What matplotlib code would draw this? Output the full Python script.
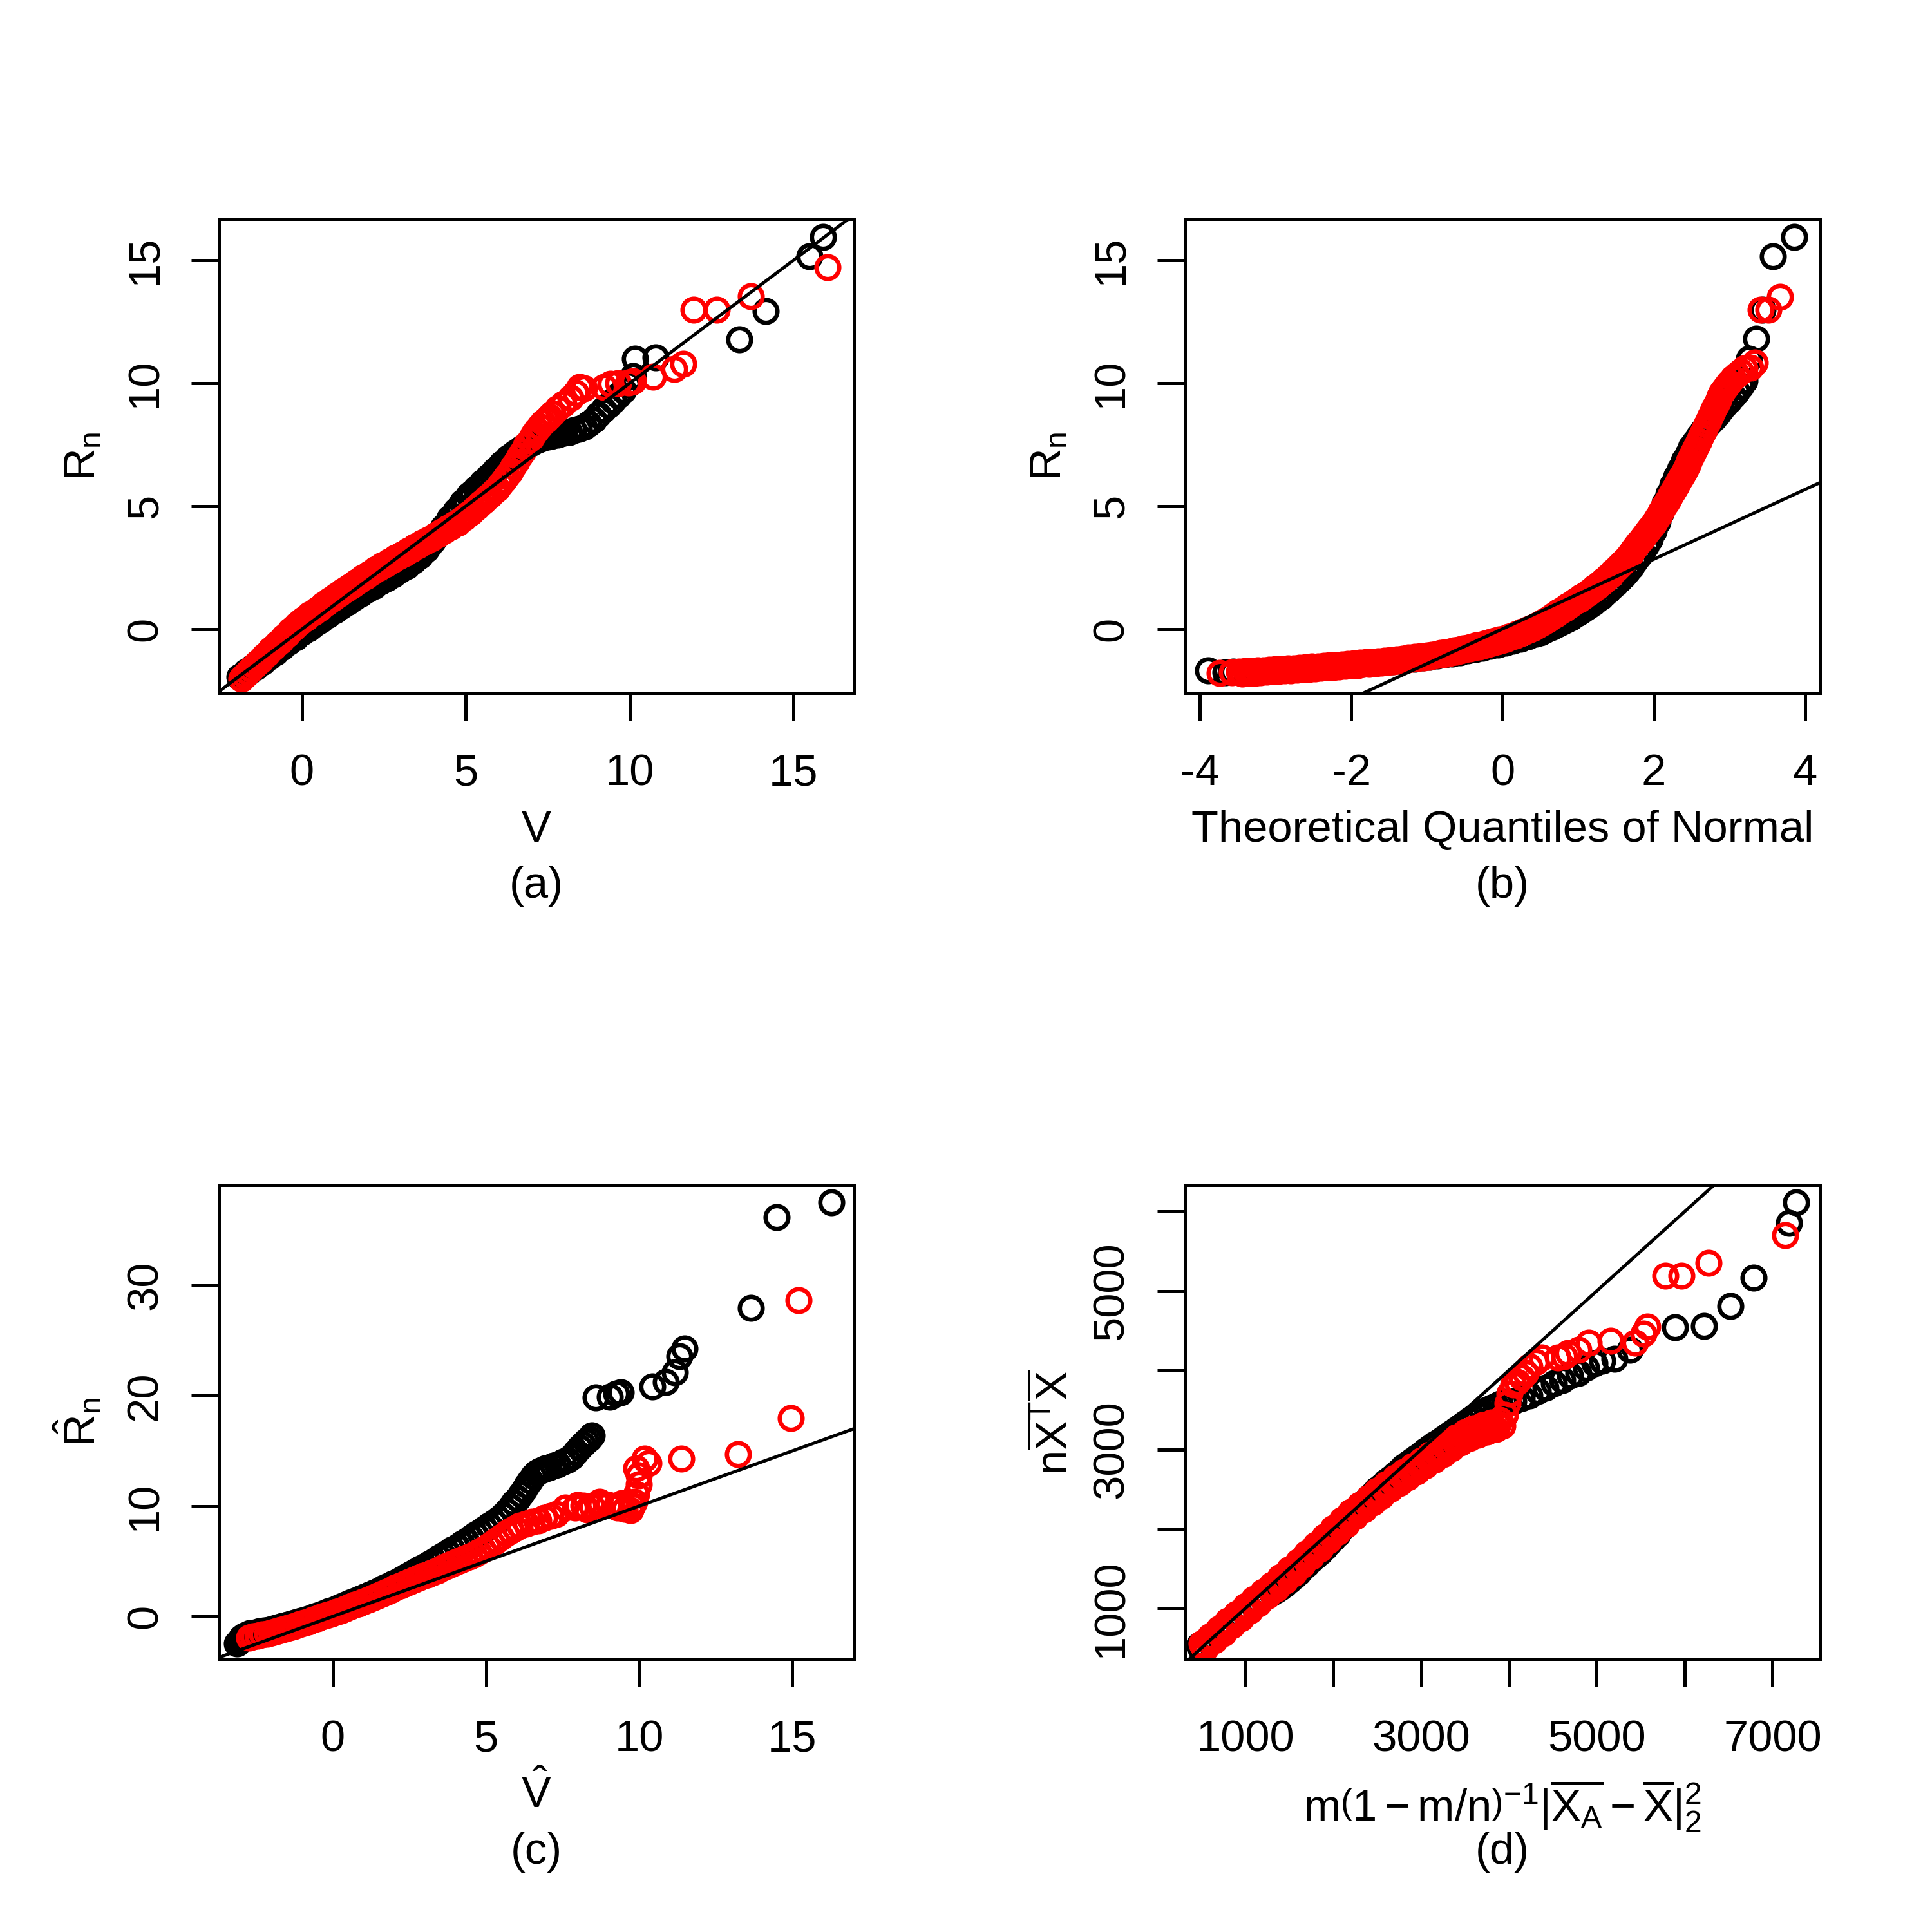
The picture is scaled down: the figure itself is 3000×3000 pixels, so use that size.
import matplotlib.pyplot as plt

plt.rcParams['font.family'] = ['Liberation Sans', 'DejaVu Sans']
plt.rcParams['mathtext.fontset'] = 'custom'
plt.rcParams['mathtext.rm'] = 'Liberation Sans'
plt.rcParams['mathtext.it'] = 'Liberation Sans'
plt.rcParams['mathtext.bf'] = 'Liberation Sans:bold'
plt.rcParams['axes.unicode_minus'] = False

# ---------------- data ----------------
# (a) R_n against V
a_black = [(-1.90,-1.93),(-1.80,-1.93),(-1.70,-1.73),(-1.60,-1.73),(-1.50,-1.53),(-1.40,-1.53),
           (-1.30,-1.33),(-1.20,-1.33),(-1.10,-1.13),(-1.00,-1.13),(-0.90,-0.93),(-0.80,-0.93),
           (-0.70,-0.73),(-0.60,-0.73),(-0.50,-0.53),(-0.40,-0.53),(-0.30,-0.33),(-0.20,-0.33),
           (-0.10,-0.13),(0.00,-0.13),(0.10,0.06),(0.20,0.04),(0.30,0.14),(0.40,0.25),(0.50,0.33),
           (0.60,0.40),(0.70,0.52),(0.80,0.58),(0.90,0.70),(1.00,0.76),(1.10,0.88),(1.20,0.94),
           (1.30,1.05),(1.40,1.11),(1.50,1.22),(1.60,1.28),(1.70,1.39),(1.80,1.45),(1.90,1.56),
           (2.00,1.62),(2.10,1.72),(2.20,1.77),(2.30,1.88),(2.40,1.93),(2.50,2.03),(2.60,2.08),
           (2.70,2.19),(2.80,2.24),(2.90,2.35),(3.00,2.40),(3.10,2.52),(3.20,2.58),(3.30,2.70),
           (3.40,2.77),(3.50,2.90),(3.60,2.98),(3.70,3.14),(3.80,3.25),(3.90,3.44),(4.00,3.58),
           (4.10,3.78),(4.20,3.93),(4.30,4.14),(4.40,4.28),(4.50,4.50),(4.60,4.62),(4.70,4.83),
           (4.80,4.95),(4.90,5.15),(5.00,5.26),(5.10,5.45),(5.20,5.56),(5.30,5.72),(5.40,5.82),
           (5.50,5.96),(5.60,6.06),(5.70,6.20),(5.80,6.30),(5.90,6.46),(6.00,6.56),(6.10,6.72),
           (6.20,6.82),(6.30,6.96),(6.40,7.06),(6.50,7.18),(6.60,7.26),(6.70,7.36),(6.80,7.44),
           (6.90,7.52),(7.00,7.58),(7.10,7.65),(7.20,7.70),(7.30,7.76),(7.40,7.80),(7.50,7.84),
           (7.60,7.86),(7.70,7.90),(7.80,7.92),(7.90,7.96),(8.00,7.98),(8.15,8.02),(8.30,8.08),
           (8.45,8.15),(8.60,8.22),(8.75,8.35),(8.90,8.52),(9.05,8.72),(9.20,8.92),(9.35,9.10),
           (9.50,9.30),(9.65,9.50),(9.80,9.72),(9.95,9.95),(10.10,10.30),(10.17,11.00),
           (10.79,11.04),(13.34,11.79),(14.15,12.92),(15.49,15.17),(15.90,15.93)]
a_red = [(-1.85,-2.02),(-1.75,-1.88),(-1.65,-1.76),(-1.55,-1.62),(-1.45,-1.50),(-1.35,-1.36),
         (-1.25,-1.24),(-1.15,-1.10),(-1.05,-0.98),(-0.95,-0.84),(-0.85,-0.72),(-0.75,-0.58),
         (-0.65,-0.46),(-0.55,-0.32),(-0.45,-0.20),(-0.35,-0.06),(-0.25,0.06),(-0.15,0.18),
         (-0.05,0.28),(0.05,0.40),(0.15,0.48),(0.25,0.60),(0.35,0.68),(0.45,0.80),(0.55,0.88),
         (0.65,0.99),(0.75,1.07),(0.85,1.18),(0.95,1.26),(1.05,1.37),(1.15,1.45),(1.25,1.55),
         (1.35,1.63),(1.45,1.74),(1.55,1.81),(1.65,1.92),(1.75,1.99),(1.85,2.09),(1.95,2.16),
         (2.05,2.26),(2.15,2.33),(2.25,2.43),(2.35,2.49),(2.45,2.59),(2.55,2.65),(2.65,2.75),
         (2.75,2.80),(2.85,2.90),(2.95,2.95),(3.05,3.05),(3.15,3.10),(3.25,3.20),(3.35,3.25),
         (3.45,3.35),(3.55,3.40),(3.65,3.50),(3.75,3.55),(3.85,3.65),(3.95,3.70),(4.05,3.80),
         (4.15,3.85),(4.25,3.95),(4.35,4.00),(4.45,4.10),(4.55,4.16),(4.65,4.26),(4.75,4.32),
         (4.85,4.44),(4.95,4.52),(5.05,4.65),(5.15,4.74),(5.25,4.88),(5.35,4.97),(5.45,5.11),
         (5.55,5.20),(5.65,5.34),(5.75,5.44),(5.85,5.60),(5.95,5.72),(6.05,5.90),(6.15,6.04),
         (6.25,6.24),(6.35,6.40),(6.45,6.62),(6.55,6.80),(6.65,7.04),(6.75,7.24),(6.85,7.48),
         (6.95,7.68),(7.05,7.90),(7.15,8.08),(7.25,8.26),(7.35,8.40),(7.45,8.52),(7.55,8.64),
         (7.65,8.78),(7.80,8.98),(7.98,9.17),(8.20,9.40),(8.36,9.60),(8.48,9.84),(8.60,9.78),
         (9.22,9.84),(9.41,9.97),(9.65,10.00),(9.96,10.03),(10.11,10.09),(10.71,10.27),
         (11.35,10.58),(11.63,10.79),(11.94,12.98),(12.66,12.98),(13.70,13.53),(16.03,14.70)]

# (b) R_n against normal quantiles
b_black = [(-3.89,-1.66),(-3.66,-1.74),(-3.56,-1.72),(-3.46,-1.76),(-3.36,-1.74),(-3.26,-1.72),
           (-3.16,-1.70),(-3.06,-1.68),(-2.96,-1.66),(-2.86,-1.64),(-2.76,-1.62),(-2.66,-1.60),
           (-2.56,-1.58),(-2.46,-1.56),(-2.36,-1.53),(-2.26,-1.51),(-2.16,-1.49),(-2.06,-1.47),
           (-1.96,-1.44),(-1.86,-1.42),(-1.76,-1.39),(-1.66,-1.36),(-1.56,-1.33),(-1.46,-1.30),
           (-1.36,-1.27),(-1.26,-1.23),(-1.16,-1.19),(-1.06,-1.16),(-0.96,-1.12),(-0.86,-1.07),
           (-0.76,-1.03),(-0.66,-0.98),(-0.56,-0.93),(-0.46,-0.87),(-0.36,-0.81),(-0.26,-0.75),
           (-0.16,-0.68),(-0.06,-0.62),(0.04,-0.55),(0.14,-0.47),(0.24,-0.38),(0.34,-0.29),
           (0.44,-0.19),(0.50,-0.12),(0.55,-0.05),(0.60,0.02),(0.65,0.09),(0.70,0.16),(0.75,0.24),
           (0.80,0.32),(0.85,0.40),(0.90,0.48),(0.95,0.57),(1.00,0.66),(1.05,0.76),(1.10,0.86),
           (1.15,0.97),(1.20,1.08),(1.25,1.20),(1.30,1.32),(1.35,1.45),(1.40,1.58),(1.45,1.72),
           (1.50,1.86),(1.55,2.01),(1.60,2.18),(1.65,2.36),(1.70,2.55),(1.75,2.75),(1.80,2.95),
           (1.85,3.15),(1.90,3.40),(1.95,3.68),(2.00,4.00),(2.05,4.37),(2.10,4.75),(2.15,5.13),
           (2.20,5.50),(2.25,5.86),(2.30,6.20),(2.35,6.53),(2.40,6.85),(2.45,7.13),(2.50,7.40),
           (2.55,7.63),(2.60,7.85),(2.65,8.06),(2.70,8.25),(2.75,8.43),(2.80,8.60),(2.85,8.78),
           (2.90,8.95),(2.95,9.13),(3.00,9.30),(3.05,9.48),(3.10,9.65),(3.15,9.87),(3.20,10.10),
           (3.26,11.00),(3.36,11.81),(3.44,12.98),(3.58,15.17),(3.86,15.93)]
b_red = [(-3.74,-1.78),(-3.58,-1.74),(-3.48,-1.72),(-3.44,-1.80),(-3.40,-1.71),(-3.36,-1.78),
         (-3.32,-1.69),(-3.28,-1.77),(-3.24,-1.68),(-3.20,-1.75),(-3.16,-1.66),(-3.12,-1.73),
         (-3.08,-1.64),(-3.04,-1.71),(-3.00,-1.62),(-2.96,-1.69),(-2.92,-1.61),(-2.88,-1.68),
         (-2.84,-1.59),(-2.80,-1.66),(-2.76,-1.58),(-2.72,-1.64),(-2.68,-1.56),(-2.64,-1.63),
         (-2.60,-1.54),(-2.56,-1.61),(-2.52,-1.52),(-2.48,-1.59),(-2.44,-1.51),(-2.40,-1.57),
         (-2.36,-1.49),(-2.32,-1.55),(-2.28,-1.47),(-2.24,-1.53),(-2.20,-1.45),(-2.16,-1.51),
         (-2.12,-1.43),(-2.08,-1.49),(-2.04,-1.41),(-2.00,-1.47),(-1.96,-1.39),(-1.92,-1.45),
         (-1.88,-1.37),(-1.84,-1.42),(-1.80,-1.34),(-1.76,-1.40),(-1.72,-1.32),(-1.68,-1.38),
         (-1.64,-1.30),(-1.60,-1.35),(-1.56,-1.27),(-1.52,-1.32),(-1.48,-1.24),(-1.44,-1.30),
         (-1.40,-1.22),(-1.36,-1.27),(-1.32,-1.19),(-1.28,-1.24),(-1.24,-1.16),(-1.20,-1.21),
         (-1.16,-1.13),(-1.12,-1.18),(-1.08,-1.10),(-1.04,-1.15),(-1.00,-1.07),(-0.97,-1.11),
         (-0.94,-1.04),(-0.91,-1.08),(-0.88,-1.01),(-0.85,-1.05),(-0.82,-0.97),(-0.79,-1.01),
         (-0.76,-0.94),(-0.73,-0.98),(-0.70,-0.90),(-0.67,-0.94),(-0.64,-0.87),(-0.61,-0.90),
         (-0.58,-0.83),(-0.55,-0.86),(-0.52,-0.79),(-0.49,-0.82),(-0.46,-0.75),(-0.43,-0.78),
         (-0.40,-0.71),(-0.37,-0.73),(-0.34,-0.66),(-0.31,-0.69),(-0.28,-0.62),(-0.25,-0.64),
         (-0.22,-0.57),(-0.19,-0.59),(-0.16,-0.52),(-0.13,-0.54),(-0.10,-0.47),(-0.07,-0.49),
         (-0.04,-0.42),(-0.01,-0.44),(0.02,-0.38),(0.05,-0.38),(0.08,-0.31),(0.11,-0.31),
         (0.14,-0.25),(0.17,-0.25),(0.20,-0.18),(0.23,-0.18),(0.26,-0.11),(0.29,-0.10),
         (0.32,-0.03),(0.35,-0.02),(0.38,0.05),(0.41,0.06),(0.44,0.13),(0.47,0.16),(0.50,0.24),
         (0.53,0.26),(0.56,0.34),(0.59,0.37),(0.62,0.46),(0.65,0.49),(0.68,0.58),(0.71,0.61),
         (0.74,0.70),(0.77,0.73),(0.80,0.82),(0.83,0.85),(0.86,0.94),(0.89,0.97),(0.92,1.06),
         (0.95,1.09),(0.98,1.18),(1.01,1.21),(1.04,1.30),(1.07,1.34),(1.10,1.43),(1.13,1.47),
         (1.16,1.56),(1.19,1.60),(1.22,1.70),(1.25,1.74),(1.28,1.84),(1.31,1.89),(1.34,1.99),
         (1.37,2.04),(1.40,2.15),(1.43,2.20),(1.46,2.32),(1.50,2.45),(1.525,2.52),(1.55,2.60),
         (1.575,2.67),(1.60,2.75),(1.625,2.84),(1.65,2.92),(1.675,3.01),(1.70,3.10),(1.725,3.20),
         (1.75,3.30),(1.775,3.40),(1.80,3.50),(1.825,3.60),(1.85,3.70),(1.875,3.80),(1.90,3.90),
         (1.925,4.00),(1.95,4.10),(1.975,4.20),(2.00,4.30),(2.025,4.42),(2.05,4.55),(2.075,4.67),
         (2.10,4.80),(2.125,4.92),(2.15,5.05),(2.175,5.17),(2.20,5.30),(2.225,5.44),(2.25,5.57),
         (2.275,5.71),(2.30,5.85),(2.325,5.99),(2.35,6.12),(2.375,6.26),(2.40,6.40),(2.425,6.55),
         (2.45,6.71),(2.475,6.86),(2.50,7.02),(2.525,7.18),(2.55,7.33),(2.575,7.49),(2.60,7.65),
         (2.625,7.82),(2.65,7.98),(2.675,8.15),(2.70,8.32),(2.725,8.49),(2.75,8.66),(2.775,8.83),
         (2.80,9.00),(2.825,9.15),(2.85,9.30),(2.875,9.45),(2.90,9.60),(2.925,9.71),(2.95,9.82),
         (2.975,9.93),(3.00,10.04),(3.05,10.20),(3.10,10.35),(3.15,10.48),(3.20,10.60),
         (3.28,10.64),(3.34,10.83),(3.42,12.98),(3.52,12.98),(3.67,13.50)]

# (c) R_n hat against V hat
c_black = [(-3.12,-2.46),(-3.05,-2.20),(-2.98,-1.95),(-2.90,-1.78),(-2.80,-1.64),(-2.70,-1.54),
           (-2.55,-1.45),(-2.40,-1.37),(-2.25,-1.29),(-2.10,-1.20),(-1.95,-1.10),(-1.80,-1.00),
           (-1.65,-0.90),(-1.50,-0.78),(-1.35,-0.66),(-1.20,-0.54),(-1.05,-0.42),(-0.90,-0.29),
           (-0.75,-0.15),(-0.60,-0.01),(-0.45,0.13),(-0.30,0.28),(-0.15,0.44),(0.00,0.60),
           (0.15,0.76),(0.30,0.93),(0.45,1.10),(0.60,1.27),(0.75,1.44),(0.90,1.61),(1.05,1.79),
           (1.20,1.97),(1.35,2.16),(1.50,2.35),(1.65,2.55),(1.80,2.75),(1.95,2.96),(2.10,3.17),
           (2.25,3.39),(2.40,3.61),(2.55,3.84),(2.70,4.07),(2.85,4.31),(3.00,4.55),(3.15,4.79),
           (3.30,5.04),(3.45,5.29),(3.60,5.54),(3.75,5.80),(3.90,6.06),(4.05,6.32),(4.20,6.58),
           (4.35,6.85),(4.50,7.12),(4.65,7.39),(4.80,7.66),(4.95,7.94),(5.10,8.22),(5.25,8.50),
           (5.40,8.80),(5.55,9.15),(5.68,9.50),(5.80,9.90),(5.92,10.30),(6.04,10.70),(6.14,11.10),
           (6.24,11.50),(6.34,11.90),(6.44,12.30),(6.54,12.70),(6.64,13.00),(6.75,13.20),
           (6.85,13.30),(6.95,13.40),(7.05,13.50),(7.20,13.65),(7.35,13.80),(7.50,14.00),
           (7.65,14.20),(7.80,14.50),(7.93,14.90),(8.05,15.30),(8.15,15.60),(8.26,15.90),
           (8.36,16.10),(8.46,16.37),(8.59,19.84),(9.05,19.89),(9.25,20.17),(9.39,20.30),
           (10.42,20.85),(10.87,21.26),(11.17,22.09),(11.31,23.59),(11.48,24.28),(13.65,27.98),
           (14.48,36.21),(16.27,37.53)]
c_red = [(-2.73,-1.91),(-2.60,-1.83),(-2.45,-1.75),(-2.30,-1.65),(-2.15,-1.55),(-2.00,-1.45),
         (-1.85,-1.34),(-1.70,-1.23),(-1.55,-1.11),(-1.40,-0.99),(-1.25,-0.86),(-1.10,-0.73),
         (-0.95,-0.59),(-0.80,-0.45),(-0.65,-0.31),(-0.50,-0.17),(-0.35,-0.03),(-0.20,0.11),
         (-0.05,0.25),(0.10,0.40),(0.25,0.55),(0.40,0.71),(0.55,0.87),(0.70,1.03),(0.85,1.19),
         (1.00,1.36),(1.15,1.53),(1.30,1.70),(1.45,1.87),(1.60,2.05),(1.75,2.23),(1.90,2.41),
         (2.05,2.60),(2.20,2.79),(2.35,2.97),(2.50,3.14),(2.65,3.31),(2.80,3.48),(2.95,3.65),
         (3.10,3.82),(3.25,3.99),(3.40,4.17),(3.55,4.35),(3.70,4.53),(3.85,4.71),(4.00,4.89),
         (4.15,5.07),(4.30,5.25),(4.45,5.43),(4.60,5.62),(4.75,5.82),(4.90,6.05),(5.05,6.30),
         (5.20,6.58),(5.35,6.88),(5.50,7.20),(5.65,7.50),(5.80,7.78),(5.95,8.00),(6.10,8.20),
         (6.30,8.38),(6.50,8.55),(6.70,8.72),(6.90,8.90),(7.10,9.10),(7.30,9.30),(7.60,9.87),
         (7.90,9.88),(8.00,10.10),(8.19,10.02),(8.30,9.68),(8.45,10.00),(8.72,10.02),
         (8.70,10.37),(9.00,10.10),(9.25,10.02),(9.30,9.85),(9.45,10.25),(9.52,9.74),
         (9.72,9.60),(9.78,10.02),(9.85,10.40),(9.91,11.11),(9.98,11.94),(9.98,12.76),
         (9.91,13.45),(10.18,14.27),(10.31,13.86),(11.37,14.27),(13.22,14.68),(14.95,17.97),
         (15.21,28.67)]

# (d) n Xbar'Xbar against m(1-m/n)^-1 |X_A - X|^2
d_black = [(474,537),(500,475),(550,522),(600,570),(650,616),(700,664),(750,710),(800,758),
           (850,804),(900,852),(950,898),(1000,945),(1050,990),(1100,1036),(1150,1082),
           (1200,1128),(1250,1165),(1300,1195),(1350,1228),(1400,1265),(1450,1305),(1500,1350),
           (1550,1400),(1600,1450),(1650,1505),(1700,1555),(1750,1610),(1800,1660),(1850,1712),
           (1900,1765),(1950,1820),(2000,1880),(2050,1940),(2100,2020),(2150,2090),(2200,2160),
           (2250,2215),(2300,2275),(2350,2335),(2400,2390),(2450,2440),(2500,2495),(2550,2540),
           (2600,2592),(2650,2635),(2700,2685),(2750,2730),(2800,2778),(2850,2820),(2900,2865),
           (2950,2905),(3000,2945),(3050,2985),(3100,3025),(3150,3064),(3200,3100),(3250,3138),
           (3300,3175),(3350,3212),(3400,3252),(3450,3290),(3500,3330),(3550,3370),(3600,3405),
           (3650,3440),(3700,3470),(3750,3500),(3800,3530),(3850,3555),(3900,3580),(3950,3600),
           (4051,3607),(4143,3646),(4235,3684),(4328,3741),(4420,3779),(4512,3836),(4605,3874),
           (4697,3932),(4789,3970),(4882,4027),(4974,4084),(5066,4122),(5205,4141),(5375,4256),
           (5888,4542),(6220,4561),(6520,4809),(6783,5171),(7189,5857),(7272,6113)]
d_red = [(500,555),(525,520),(550,502),(575,600),(600,650),(625,600),(650,596),(675,700),
         (700,744),(725,700),(750,690),(775,790),(800,838),(825,790),(850,784),(875,882),
         (900,932),(925,880),(950,878),(975,978),(1000,1025),(1025,975),(1050,970),(1075,1070),
         (1100,1116),(1125,1065),(1150,1062),(1175,1160),(1200,1208),(1225,1158),(1250,1155),
         (1275,1252),(1300,1300),(1325,1250),(1350,1248),(1375,1345),(1400,1395),(1425,1345),
         (1450,1342),(1475,1440),(1500,1490),(1525,1440),(1550,1440),(1575,1540),(1600,1590),
         (1625,1545),(1650,1545),(1675,1645),(1700,1695),(1725,1650),(1750,1650),(1775,1750),
         (1800,1800),(1825,1752),(1850,1752),(1875,1855),(1900,1905),(1925,1858),(1950,1858),
         (1975,1960),(2000,2010),(2025,1962),(2050,1962),(2075,2062),(2100,2112),(2125,2062),
         (2150,2062),(2175,2160),(2200,2210),(2225,2155),(2250,2155),(2275,2250),(2300,2300),
         (2325,2245),(2350,2245),(2375,2340),(2400,2390),(2425,2335),(2450,2335),(2475,2428),
         (2500,2478),(2525,2420),(2550,2420),(2575,2512),(2600,2562),(2625,2502),(2650,2502),
         (2675,2592),(2700,2642),(2725,2580),(2750,2580),(2775,2668),(2800,2718),(2825,2655),
         (2850,2655),(2875,2742),(2900,2792),(2925,2728),(2950,2728),(2975,2815),(3000,2865),
         (3025,2800),(3050,2800),(3075,2887),(3100,2937),(3125,2874),(3150,2874),(3175,2960),
         (3200,3010),(3225,2946),(3250,2946),(3275,3032),(3300,3082),(3325,3018),(3350,3018),
         (3375,3104),(3400,3154),(3425,3090),(3450,3090),(3475,3170),(3500,3220),(3525,3145),
         (3550,3145),(3575,3220),(3600,3270),(3625,3190),(3650,3190),(3675,3260),(3700,3310),
         (3725,3228),(3750,3228),(3775,3295),(3800,3345),(3825,3260),(3850,3260),(3875,3320),
         (3900,3371),(3930,3300),(3958,3436),(3982,3588),(4005,3703),(4051,3817),(4097,3855),
         (4143,3912),(4189,3970),(4235,4046),(4305,4103),(4374,4160),(4559,4160),(4628,4179),
         (4674,4218),(4789,4256),(4905,4351),(5158,4370),(5435,4351),(5528,4465),(5574,4549),
         (5782,5190),(5966,5190),(6275,5350),(7143,5705)]

# reference lines (intercept, slope)
a_line = (0.0, 1.0)
b_line = (0.013, 1.416)
c_line = (0.0, 1.0)
d_line = (0.0, 1.0)

a_xlim, a_ylim = (-2.53, 16.84), (-2.59, 16.67)
b_xlim, b_ylim = (-4.2, 4.2), (-2.59, 16.67)
c_xlim, c_ylim = (-3.72, 17.01), (-3.86, 39.09)
d_xlim, d_ylim = (312, 7540), (362, 6334)

a_xticks, a_yticks = [0, 5, 10, 15], [0, 5, 10, 15]
b_xticks, b_yticks = [-4, -2, 0, 2, 4], [0, 5, 10, 15]
c_xticks, c_yticks = [0, 5, 10, 15], [0, 10, 20, 30]
d_xticks = [1000, 2000, 3000, 4000, 5000, 6000, 7000]
d_xticklabels = ['1000', '', '3000', '', '5000', '', '7000']
d_yticks = [1000, 2000, 3000, 4000, 5000, 6000]
d_yticklabels = ['1000', '', '3000', '', '5000', '']

FS = 16.5
MS = 8.5
MEW = 1.6


def panel(ax, black, red, line, xlim, ylim, xticks, yticks, xlab, ylab, tag,
          xticklabels=None, yticklabels=None, xlab_y=-0.314, ylab_x=-0.195):
    bx, by = zip(*black)
    rx, ry = zip(*red)
    ax.plot(bx, by, 'o', ms=MS, mfc='none', mec='black', mew=MEW, ls='none')
    ax.plot(rx, ry, 'o', ms=MS, mfc='none', mec='#ff0000', mew=MEW, ls='none')
    ax.axline((0, line[0]), slope=line[1], color='black', lw=1.2)
    ax.set_xlim(*xlim)
    ax.set_ylim(*ylim)
    ax.set_xticks(xticks)
    ax.set_xticklabels(xticklabels if xticklabels else [str(t) for t in xticks])
    ax.set_yticks(yticks)
    ax.set_yticklabels(yticklabels if yticklabels else [str(t) for t in yticks],
                       rotation=90, va='center')
    ax.tick_params(length=10.3, width=1.2, labelsize=FS, direction='out')
    ax.tick_params(axis='x', pad=12)
    ax.tick_params(axis='y', pad=9.5)
    for s in ax.spines.values():
        s.set_linewidth(1.2)
    ax.text(0.5, xlab_y, xlab, transform=ax.transAxes, ha='center', va='baseline', fontsize=FS)
    ax.text(0.5, -0.432, tag, transform=ax.transAxes, ha='center', va='baseline', fontsize=FS)
    ax.text(ylab_x, 0.5, ylab, transform=ax.transAxes, rotation=90, rotation_mode='anchor',
            ha='center', va='baseline', fontsize=FS)


fig = plt.figure(figsize=(10, 10), dpi=300)
ax_a = fig.add_axes([0.1133, 0.6413, 0.3287, 0.2453])
ax_b = fig.add_axes([0.6133, 0.6413, 0.3287, 0.2453])
ax_c = fig.add_axes([0.1133, 0.1413, 0.3287, 0.2453])
ax_d = fig.add_axes([0.6133, 0.1413, 0.3287, 0.2453])

panel(ax_a, a_black, a_red, a_line, a_xlim, a_ylim, a_xticks, a_yticks,
      'V', r'$R_n$', '(a)')
panel(ax_b, b_black, b_red, b_line, b_xlim, b_ylim, b_xticks, b_yticks,
      'Theoretical Quantiles of Normal', r'$R_n$', '(b)')
panel(ax_c, c_black, c_red, c_line, c_xlim, c_ylim, c_xticks, c_yticks,
      r'$\hat{V}$', r'$\hat{R}_n$', '(c)')
panel(ax_d, d_black, d_red, d_line, d_xlim, d_ylim, d_xticks, d_yticks,
      r'$m\left(1-m/n\right)^{-1}|\overline{X_A}-\overline{X}|_2^2$',
      r'$n\overline{X}^T\overline{X}$', '(d)',
      xticklabels=d_xticklabels, yticklabels=d_yticklabels, xlab_y=-0.342, ylab_x=-0.185)

fig.savefig('out.png', dpi=300, facecolor='white')
